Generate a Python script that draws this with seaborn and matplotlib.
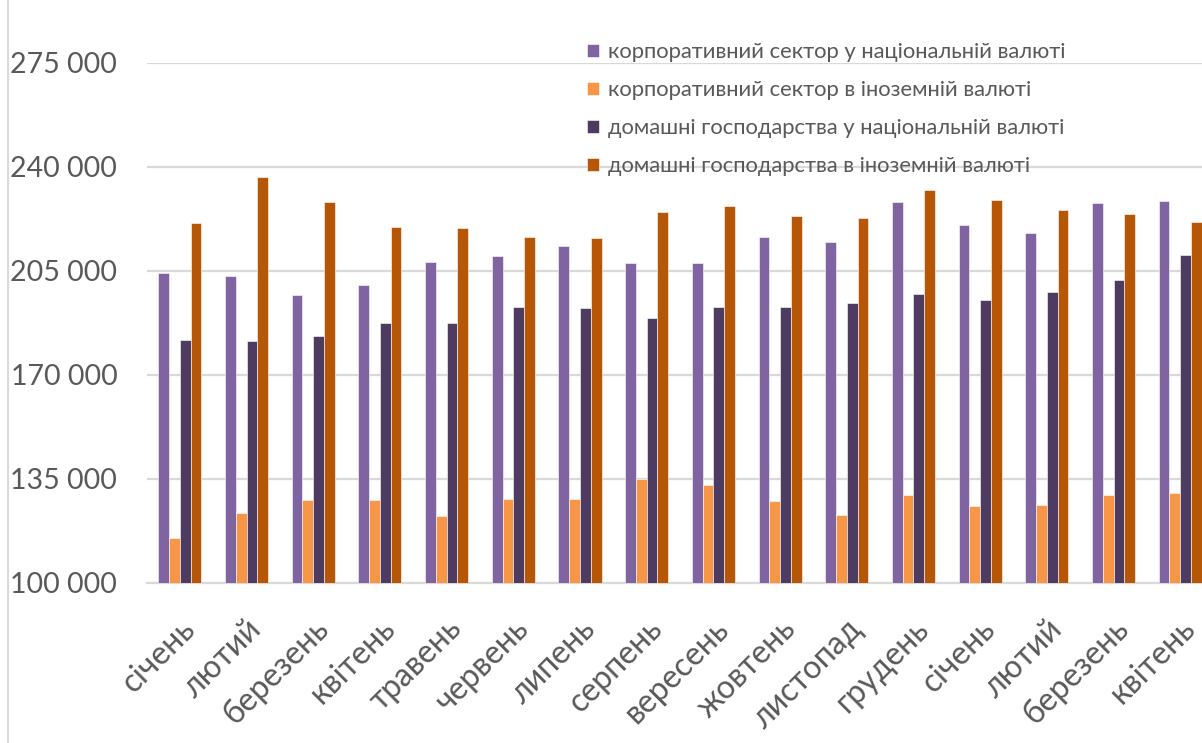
import matplotlib
matplotlib.use("Agg")
import matplotlib.pyplot as plt
import seaborn as sns
import pandas as pd
from matplotlib.ticker import FuncFormatter
from matplotlib.lines import Line2D

# 1. DATA
months = ["січень", "лютий", "березень", "квітень", "травень", "червень",
          "липень", "серпень", "вересень", "жовтень", "листопад", "грудень",
          "січень", "лютий", "березень", "квітень"]

series_names = ["корпоративний сектор у національній валюті",
                "корпоративний сектор в іноземній валюті",
                "домашні господарства у національній валюті",
                "домашні господарства в іноземній валюті"]

corp_uah = [204100, 203300, 196900, 200300, 208100, 209900, 213400, 207700,
            207500, 216400, 214600, 228200, 220300, 217700, 227800, 228300]
corp_fx = [114900, 123400, 127800, 127800, 122500, 128200, 128200, 135000,
           132900, 127600, 122700, 129500, 125800, 126100, 129500, 130100]
hh_uah = [181700, 181400, 183100, 187300, 187500, 192900, 192500, 189200,
          192700, 192700, 194000, 197100, 195100, 197700, 201800, 210200]
hh_fx = [220900, 236400, 228000, 219800, 219300, 216300, 215900, 224700,
         226800, 223300, 222600, 232000, 228700, 225500, 224100, 221400]

colors = ["#8064A2", "#F79646", "#4E3B62", "#B65708"]

# 2. LONG TABLE FOR SEABORN
rows = []
for name, vals in zip(series_names, [corp_uah, corp_fx, hh_uah, hh_fx]):
    for i, v in enumerate(vals):
        rows.append({"period": i, "series": name, "value": v})
df = pd.DataFrame(rows)

# 3. PLOT
sns.set_style("white")
plt.rcParams["font.family"] = ["Lato", "DejaVu Sans"]

fig = plt.figure(figsize=(12.02, 7.43), dpi=100)
ax = fig.add_axes([0.1219, 0.2157, 0.8877, 0.6999])

sns.barplot(data=df, x="period", y="value", hue="series", hue_order=series_names,
            palette=colors, width=0.645, gap=0, saturation=1, errorbar=None,
            edgecolor="white", linewidth=0.4, ax=ax, zorder=3)

ax.set_ylim(100000, 275000)
ax.set_yticks([100000, 135000, 170000, 205000, 240000, 275000])
ax.yaxis.set_major_formatter(FuncFormatter(lambda v, p: f"{int(v):,}".replace(",", " ")))
ax.grid(axis="y", color="#D9D9D9", linewidth=1.6, zorder=0)
ax.set_axisbelow(True)
for s in ["top", "right", "left"]:
    ax.spines[s].set_visible(False)
ax.spines["bottom"].set_color("#D9D9D9")
ax.spines["bottom"].set_linewidth(1.6)

ax.set_xlabel("")
ax.set_ylabel("")
ax.set_xticks(range(len(months)))
ax.set_xticklabels(months, rotation=45, ha="right", va="top", rotation_mode="anchor")
ax.tick_params(axis="x", length=0, pad=22, labelsize=23, labelcolor="#595959")
ax.tick_params(axis="y", length=0, pad=21, labelsize=20.5, labelcolor="#595959")

leg = ax.legend(loc="upper left", bbox_to_anchor=(0.394, 1.077), frameon=False,
                fontsize=15.8, labelcolor="#595959", handlelength=0.55,
                handleheight=0.55, handletextpad=0.4, labelspacing=0.82)

# chart frame line on the left
fig.add_artist(Line2D([0.007, 0.007], [0, 1], color="#D9D9D9", linewidth=1.5))

plt.savefig("out.png", dpi=100)
